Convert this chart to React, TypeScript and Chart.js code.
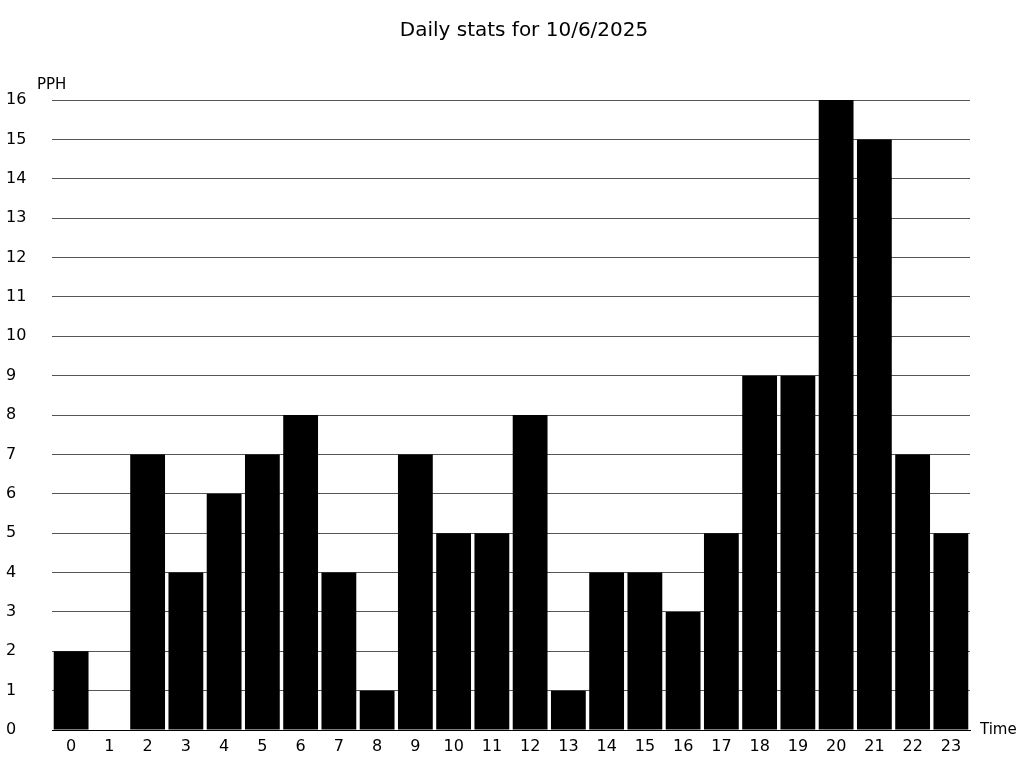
import React, { useEffect, useRef } from "react";
import { Chart, registerables } from "chart.js";

Chart.register(...registerables);

const titleText = "Daily stats for 10/6/2025";
const hours = ["0","1","2","3","4","5","6","7","8","9","10","11","12","13","14","15","16","17","18","19","20","21","22","23"];
const pph = [2, 0, 7, 4, 6, 7, 8, 4, 1, 7, 5, 5, 8, 1, 4, 4, 3, 5, 9, 9, 16, 15, 7, 5];
const yAxisLabel = "PPH";
const xAxisLabel = "Time";

const FONT = "'DejaVu Sans', sans-serif";

const textPlugin = {
  id: "extraText",
  afterDraw(chart: any) {
    const ctx = chart.ctx;
    const area = chart.chartArea;
    ctx.save();
    ctx.fillStyle = "#000";
    ctx.font = `20px ${FONT}`;
    ctx.textAlign = "center";
    ctx.textBaseline = "middle";
    ctx.fillText(titleText, 524, 31);
    ctx.font = `15px ${FONT}`;
    ctx.textAlign = "left";
    ctx.fillText(yAxisLabel, 37, area.top - 15);
    ctx.fillText(xAxisLabel, area.right + 10, area.bottom);
    ctx.restore();
  },
};

export default function App() {
  const ref = useRef<HTMLCanvasElement | null>(null);
  useEffect(() => {
    document.body.style.margin = "0";
    const chart = new Chart(ref.current as HTMLCanvasElement, {
      type: "bar",
      data: {
        labels: hours,
        datasets: [
          {
            data: pph,
            backgroundColor: "#000",
            borderWidth: 0,
            barPercentage: 0.91,
            categoryPercentage: 1,
          },
        ],
      },
      options: {
        animation: false,
        responsive: false,
        layout: { padding: { top: 100, left: 6, right: 54, bottom: 0 } },
        plugins: { legend: { display: false }, title: { display: false }, tooltip: { enabled: false } },
        scales: {
          x: {
            grid: { display: false, drawTicks: false },
            border: { display: true, color: "#000", width: 1 },
            ticks: { color: "#000", font: { family: FONT, size: 16 }, padding: 7, maxRotation: 0, autoSkip: false },
            afterFit: (s: any) => { s.height = 38; },
          },
          y: {
            min: 0,
            max: 16,
            grid: { color: "#555", drawTicks: false, lineWidth: 1 },
            border: { display: false },
            ticks: { stepSize: 1, color: "#000", font: { family: FONT, size: 16 }, crossAlign: "far", padding: 0 },
            afterFit: (s: any) => { s.width = 46; },
          },
        },
      },
      plugins: [textPlugin],
    } as any);
    return () => chart.destroy();
  }, []);
  return (
    <div style={{ position: "absolute", left: 0, top: 0, width: 1024, height: 768, background: "#fff" }}>
      <canvas ref={ref} width={1024} height={768} style={{ width: 1024, height: 768 }} />
    </div>
  );
}
